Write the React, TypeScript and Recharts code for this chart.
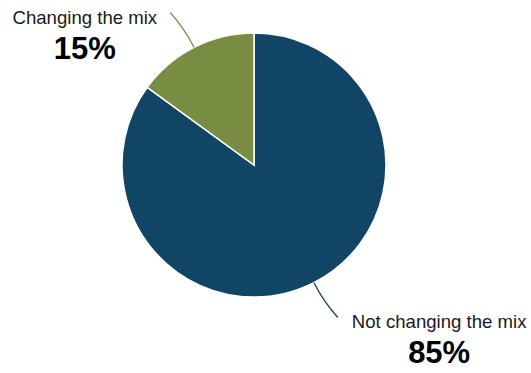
import { PieChart, Pie, Cell } from "recharts";

const FONT = "Arial, 'Liberation Sans', sans-serif";

const names = ["Not changing the mix", "Changing the mix"];
const shares = [85, 15];
const colors = ["#114566", "#788D41"];

const data = names.map((name, i) => ({ name, value: shares[i] }));

const RAD = Math.PI / 180;
const NAME_SIZE = 18.6;

let ctx: CanvasRenderingContext2D | null = null;
function textWidth(s: string): number {
  if (!ctx) ctx = document.createElement("canvas").getContext("2d");
  if (!ctx) return s.length * 9;
  ctx.font = `${NAME_SIZE}px ${FONT}`;
  return ctx.measureText(s).width;
}

function renderLabel(props: any): React.ReactElement {
  const { cx, cy, outerRadius, midAngle, index, name, value } = props;
  const color = colors[index];
  const at = (r: number, a: number) => ({
    x: cx + r * Math.cos(-a * RAD),
    y: cy + r * Math.sin(-a * RAD),
  });
  const s = at(outerRadius, midAngle);
  const c = at(outerRadius + 22, midAngle);
  const e = at(outerRadius + 42, midAngle + 1.8);
  const right = Math.cos(-midAngle * RAD) >= 0;
  const w = textWidth(name);
  const tx = right ? e.x + 14 : e.x - 13;
  const mid = right ? tx + w / 2 : tx - w / 2;
  return (
    <g>
      <path
        d={`M${s.x},${s.y} Q${c.x},${c.y} ${e.x},${e.y}`}
        stroke={color}
        strokeWidth={1.2}
        fill="none"
      />
      <text
        x={tx}
        y={e.y + 11}
        textAnchor={right ? "start" : "end"}
        fontSize={NAME_SIZE}
        fontFamily={FONT}
        fill="#1a1a1a"
      >
        {name}
      </text>
      <text
        x={mid}
        y={e.y + 46}
        textAnchor="middle"
        fontSize={31}
        fontWeight="bold"
        fontFamily={FONT}
        fill="#000"
      >
        {`${value}%`}
      </text>
    </g>
  );
}

export default function App(): React.ReactElement {
  return (
    <div style={{ position: "absolute", left: 0, top: 0, width: 531, height: 373, background: "#fff" }}>
      <PieChart width={531} height={373} margin={{ top: 0, right: 0, bottom: 0, left: 0 }}>
        <Pie
          data={data}
          dataKey="value"
          nameKey="name"
          cx={254}
          cy={165}
          outerRadius={132}
          startAngle={90}
          endAngle={-270}
          stroke="#fff"
          strokeWidth={1.5}
          label={renderLabel}
          labelLine={false}
          isAnimationActive={false}
        >
          {data.map((d, i) => (
            <Cell key={d.name} fill={colors[i]} />
          ))}
        </Pie>
      </PieChart>
    </div>
  );
}
